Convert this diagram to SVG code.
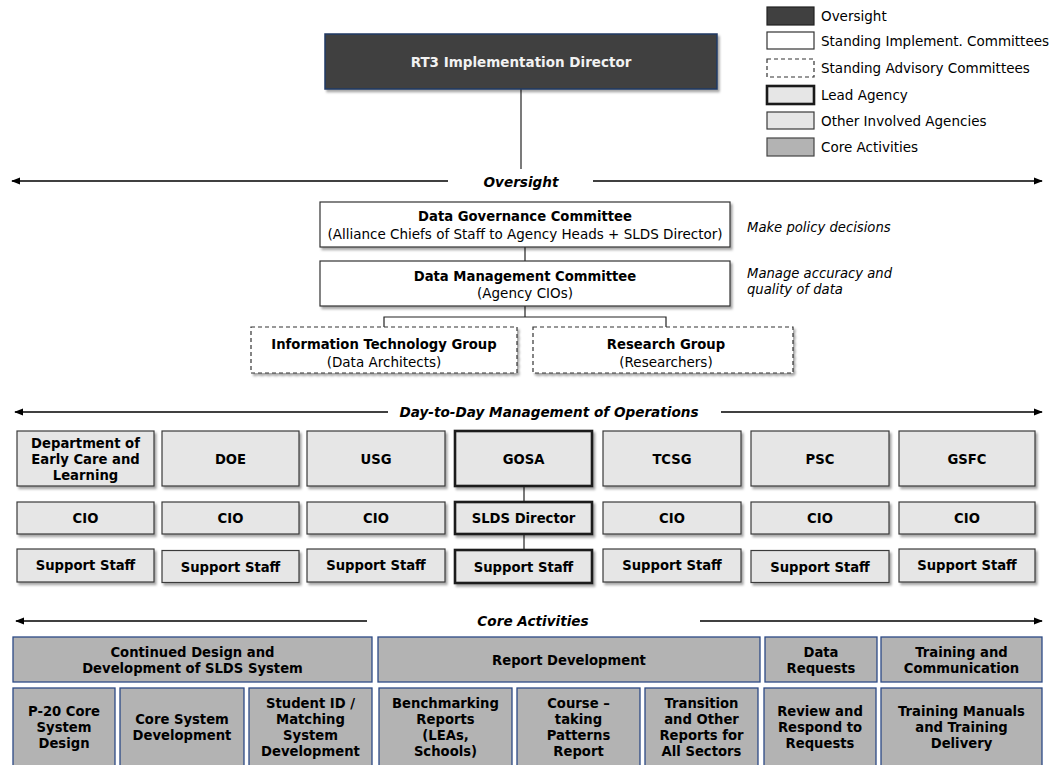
<svg xmlns="http://www.w3.org/2000/svg" width="1051" height="765" viewBox="0 0 1051 765">
<defs>
<filter id="sh" x="-10%" y="-10%" width="130%" height="140%">
<feDropShadow dx="2" dy="2.5" stdDeviation="1.2" flood-color="#000" flood-opacity="0.35"/>
</filter>
<marker id="ah" viewBox="0 0 10 10" refX="9" refY="5" markerWidth="9" markerHeight="9" markerUnits="userSpaceOnUse" orient="auto-start-reverse">
<path d="M0,1 L10,5 L0,9 z" fill="#000"/>
</marker>
<style>
text{font-family:"DejaVu Sans","Liberation Sans",sans-serif;fill:#000}
.b{font-weight:bold;font-size:13.2px;text-anchor:middle}
.n{font-size:13.5px;text-anchor:middle}
.lg{font-size:13.5px}
.note{font-size:13.2px;font-style:italic}
.hdr{font-size:13.6px;font-weight:bold;font-style:italic;text-anchor:middle}
.ov{fill:#404040;stroke:#1f3864;stroke-width:1.5}
.com{fill:#fff;stroke:#333;stroke-width:1.2}
.adv{fill:#fff;stroke:#333;stroke-width:1.2;stroke-dasharray:4 3}
.ag{fill:#e6e6e6;stroke:#3a3a3a;stroke-width:1.2}
.lead{fill:#e6e6e6;stroke:#1a1a1a;stroke-width:2.6}
.core{fill:#b3b3b3;stroke:#2d4a86;stroke-width:1.3}
.ln{stroke:#222;stroke-width:1.2;fill:none}
.arr{stroke:#000;stroke-width:1.3;fill:none}
</style>
</defs>
<g id="legend">
<rect x="767" y="7" width="47" height="18" fill="#404040" stroke="#222" stroke-width="1.2"/>
<text class="lg" x="821" y="21">Oversight</text>
<rect x="767" y="32" width="47" height="17" class="com"/>
<text class="lg" x="821" y="46">Standing Implement. Committees</text>
<rect x="767" y="59" width="47" height="18" class="adv"/>
<text class="lg" x="821" y="73">Standing Advisory Committees</text>
<rect x="767" y="86" width="47" height="18" class="lead"/>
<text class="lg" x="821" y="100">Lead Agency</text>
<rect x="767" y="112" width="47" height="17" class="ag"/>
<text class="lg" x="821" y="126">Other Involved Agencies</text>
<rect x="767" y="138" width="47" height="18" fill="#b3b3b3" stroke="#444" stroke-width="1.2"/>
<text class="lg" x="821" y="152">Core Activities</text>
</g>
<g id="connectors">
<line class="ln" x1="521" y1="89" x2="521" y2="169"/>
<line class="ln" x1="525" y1="247" x2="525" y2="261"/>
<polyline class="ln" points="525,306 525,317"/>
<polyline class="ln" points="384,327 384,317 666,317 666,327"/>
<line class="ln" x1="524" y1="486" x2="524" y2="502"/>
<line class="ln" x1="524" y1="534" x2="524" y2="550"/>
<line class="arr" x1="448" y1="181" x2="12" y2="181" marker-end="url(#ah)"/>
<line class="arr" x1="593" y1="181" x2="1042" y2="181" marker-end="url(#ah)"/>
<line class="arr" x1="388" y1="412" x2="15" y2="412" marker-end="url(#ah)"/>
<line class="arr" x1="721" y1="412" x2="1042" y2="412" marker-end="url(#ah)"/>
<line class="arr" x1="367" y1="621" x2="16" y2="621" marker-end="url(#ah)"/>
<line class="arr" x1="700" y1="621" x2="1042" y2="621" marker-end="url(#ah)"/>
</g>
<g id="headers">
<text class="hdr" x="521" y="187">Oversight</text>
<text class="hdr" x="549" y="417">Day-to-Day Management of Operations</text>
<text class="hdr" x="533" y="626">Core Activities</text>
</g>
<g id="notes">
<text class="note" x="747" y="232">Make policy decisions</text>
<text class="note" x="747" y="278">Manage accuracy and</text>
<text class="note" x="747" y="294">quality of data</text>
</g>
<g id="rt3">
<rect x="325" y="34" width="392" height="55" class="ov" filter="url(#sh)"/>
<text class="b" x="521" y="67" style="fill:#f2f2f2;font-size:13.5px">RT3 Implementation Director</text>
</g>
<g id="dgc">
<rect x="320" y="202" width="410" height="45" class="com" filter="url(#sh)"/>
<text class="b" x="525" y="221">Data Governance Committee</text>
<text class="n" x="525" y="239">(Alliance Chiefs of Staff to Agency Heads + SLDS Director)</text>
</g>
<g id="dmc">
<rect x="320" y="261" width="410" height="45" class="com" filter="url(#sh)"/>
<text class="b" x="525" y="281">Data Management Committee</text>
<text class="n" x="525" y="298">(Agency CIOs)</text>
</g>
<g id="itg">
<rect x="251" y="327" width="266" height="46" class="adv" filter="url(#sh)"/>
<text class="b" x="384" y="349">Information Technology Group</text>
<text class="n" x="384" y="367">(Data Architects)</text>
</g>
<g id="rg">
<rect x="533" y="327" width="260" height="46" class="adv" filter="url(#sh)"/>
<text class="b" x="666" y="349">Research Group</text>
<text class="n" x="666" y="367">(Researchers)</text>
</g>
<g id="decal">
<rect x="17" y="431" width="137" height="55" class="ag" filter="url(#sh)"/>
<text class="b" x="85.5" y="448">Department of</text>
<text class="b" x="85.5" y="464">Early Care and</text>
<text class="b" x="85.5" y="480">Learning</text>
</g>
<g id="doe"><rect x="162" y="431" width="137" height="55" class="ag" filter="url(#sh)"/><text class="b" x="230.5" y="464">DOE</text></g>
<g id="usg"><rect x="307" y="431" width="138" height="55" class="ag" filter="url(#sh)"/><text class="b" x="376" y="464">USG</text></g>
<g id="gosa"><rect x="455" y="431" width="137" height="55" class="lead" filter="url(#sh)"/><text class="b" x="523.5" y="464">GOSA</text></g>
<g id="tcsg"><rect x="603" y="431" width="138" height="55" class="ag" filter="url(#sh)"/><text class="b" x="672" y="464">TCSG</text></g>
<g id="psc"><rect x="751" y="431" width="138" height="55" class="ag" filter="url(#sh)"/><text class="b" x="820" y="464">PSC</text></g>
<g id="gsfc"><rect x="899" y="431" width="136" height="55" class="ag" filter="url(#sh)"/><text class="b" x="967" y="464">GSFC</text></g>
<g id="cio1"><rect x="17" y="502" width="137" height="32" class="ag" filter="url(#sh)"/><text class="b" x="85.5" y="523">CIO</text></g>
<g id="cio2"><rect x="162" y="502" width="137" height="32" class="ag" filter="url(#sh)"/><text class="b" x="230.5" y="523">CIO</text></g>
<g id="cio3"><rect x="307" y="502" width="138" height="32" class="ag" filter="url(#sh)"/><text class="b" x="376" y="523">CIO</text></g>
<g id="slds"><rect x="455" y="502" width="137" height="32" class="lead" filter="url(#sh)"/><text class="b" x="523.5" y="523">SLDS Director</text></g>
<g id="cio5"><rect x="603" y="502" width="138" height="32" class="ag" filter="url(#sh)"/><text class="b" x="672" y="523">CIO</text></g>
<g id="cio6"><rect x="751" y="502" width="138" height="32" class="ag" filter="url(#sh)"/><text class="b" x="820" y="523">CIO</text></g>
<g id="cio7"><rect x="899" y="502" width="136" height="32" class="ag" filter="url(#sh)"/><text class="b" x="967" y="523">CIO</text></g>
<g id="ss1"><rect x="17" y="549" width="137" height="33" class="ag" filter="url(#sh)"/><text class="b" x="85.5" y="570">Support Staff</text></g>
<g id="ss2"><rect x="162" y="550.5" width="137" height="32" class="ag" filter="url(#sh)"/><text class="b" x="230.5" y="571.5">Support Staff</text></g>
<g id="ss3"><rect x="307" y="549" width="138" height="33" class="ag" filter="url(#sh)"/><text class="b" x="376" y="570">Support Staff</text></g>
<g id="ss4"><rect x="455" y="550" width="137" height="33" class="lead" filter="url(#sh)"/><text class="b" x="523.5" y="571.5">Support Staff</text></g>
<g id="ss5"><rect x="603" y="549" width="138" height="33" class="ag" filter="url(#sh)"/><text class="b" x="672" y="570">Support Staff</text></g>
<g id="ss6"><rect x="751" y="550.5" width="138" height="32" class="ag" filter="url(#sh)"/><text class="b" x="820" y="571.5">Support Staff</text></g>
<g id="ss7"><rect x="899" y="549" width="136" height="33" class="ag" filter="url(#sh)"/><text class="b" x="967" y="570">Support Staff</text></g>
<g id="cdd"><rect x="13" y="637" width="359" height="45" class="core"/><text class="b" x="192.5" y="657">Continued Design and</text><text class="b" x="192.5" y="673">Development of SLDS System</text></g>
<g id="rd"><rect x="378" y="637" width="382" height="45" class="core"/><text class="b" x="569" y="665">Report Development</text></g>
<g id="dr"><rect x="765" y="637" width="112" height="45" class="core"/><text class="b" x="821" y="657">Data</text><text class="b" x="821" y="673">Requests</text></g>
<g id="tc"><rect x="881" y="637" width="161" height="45" class="core"/><text class="b" x="961.5" y="657">Training and</text><text class="b" x="961.5" y="673">Communication</text></g>
<g id="p20"><rect x="13" y="688" width="102" height="80" class="core"/><text class="b" x="64" y="716">P-20 Core</text><text class="b" x="64" y="732">System</text><text class="b" x="64" y="748">Design</text></g>
<g id="csd"><rect x="120" y="688" width="124" height="80" class="core"/><text class="b" x="182" y="724">Core System</text><text class="b" x="182" y="740">Development</text></g>
<g id="sid"><rect x="249" y="688" width="123" height="80" class="core"/><text class="b" x="310.5" y="708">Student ID /</text><text class="b" x="310.5" y="724">Matching</text><text class="b" x="310.5" y="740">System</text><text class="b" x="310.5" y="756">Development</text></g>
<g id="bm"><rect x="379" y="688" width="133" height="80" class="core"/><text class="b" x="445.5" y="708">Benchmarking</text><text class="b" x="445.5" y="724">Reports</text><text class="b" x="445.5" y="740">(LEAs,</text><text class="b" x="445.5" y="756">Schools)</text></g>
<g id="ctp"><rect x="517" y="688" width="123" height="80" class="core"/><text class="b" x="578.5" y="708">Course –</text><text class="b" x="578.5" y="724">taking</text><text class="b" x="578.5" y="740">Patterns</text><text class="b" x="578.5" y="756">Report</text></g>
<g id="tor"><rect x="645" y="688" width="113" height="80" class="core"/><text class="b" x="701.5" y="708">Transition</text><text class="b" x="701.5" y="724">and Other</text><text class="b" x="701.5" y="740">Reports for</text><text class="b" x="701.5" y="756">All Sectors</text></g>
<g id="rr"><rect x="764" y="688" width="112" height="80" class="core"/><text class="b" x="820" y="716">Review and</text><text class="b" x="820" y="732">Respond to</text><text class="b" x="820" y="748">Requests</text></g>
<g id="tm"><rect x="881" y="688" width="161" height="80" class="core"/><text class="b" x="961.5" y="716">Training Manuals</text><text class="b" x="961.5" y="732">and Training</text><text class="b" x="961.5" y="748">Delivery</text></g>
</svg>
